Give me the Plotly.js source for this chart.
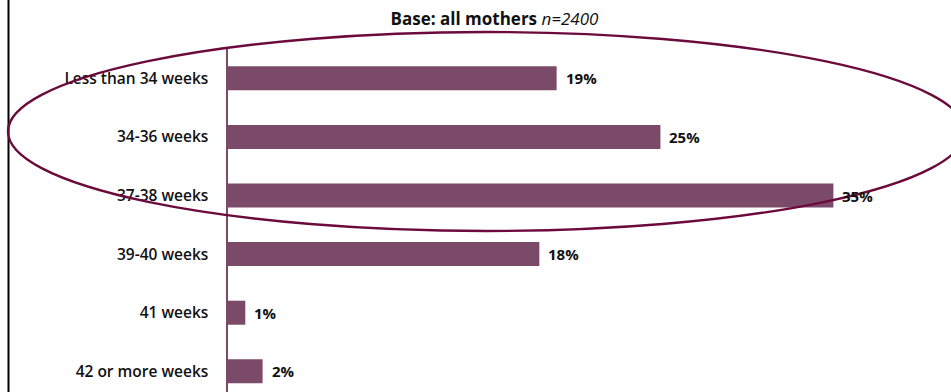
<!DOCTYPE html>
<html>
<head>
<meta charset="utf-8">
<script src="https://cdn.plot.ly/plotly-3.0.1.min.js"></script>
<style>
html,body{margin:0;padding:0;background:#fff;}
#chart{width:951px;height:392px;}
</style>
</head>
<body>
<div id="chart"></div>
<script>
var categories = ["Less than 34 weeks", "34-36 weeks", "37-38 weeks", "39-40 weeks", "41 weeks", "42 or more weeks"];
var values = [19, 25, 35, 18, 1, 2];
var labels = ["19%", "25%", "35%", "18%", "1%", "2%"];
var titleBold = "Base: all mothers";
var titleItalic = "n=2400";

var barColor = "#7b4a69";
var ringColor = "#6c0a3b";
var fontFam = "'Open Sans', 'Noto Sans', sans-serif";

var trace = {
  type: "bar",
  orientation: "h",
  x: values,
  y: categories,
  marker: {color: barColor},
  hoverinfo: "none"
};

var annotations = values.map(function (v, i) {
  return {
    x: v, y: categories[i], xref: "x", yref: "y",
    text: labels[i], showarrow: false,
    xanchor: "left", yanchor: "middle", xshift: 7,
    font: {family: fontFam, size: 15, color: "#111", weight: 700}
  };
});

var layout = {
  width: 951, height: 392,
  margin: {l: 228, r: 0, t: 49, b: 0, pad: 0},
  paper_bgcolor: "#fff", plot_bgcolor: "#fff",
  showlegend: false,
  bargap: 0.59,
  title: {
    text: "<b>" + titleBold + "</b> <i>" + titleItalic + "</i>",
    xref: "container", x: 0.52, xanchor: "center",
    yref: "container", y: 0.952, yanchor: "middle",
    font: {family: fontFam, size: 17, color: "#111"}
  },
  xaxis: {
    range: [0, 41.8],
    showgrid: false, zeroline: false, showline: false,
    showticklabels: false, ticks: ""
  },
  yaxis: {
    type: "category",
    range: [5.353, -0.5],
    showgrid: false, zeroline: false,
    showline: true, linecolor: barColor, linewidth: 2.5,
    ticks: "outside", ticklen: 14, tickcolor: "rgba(0,0,0,0)",
    tickfont: {family: fontFam, size: 15.5, color: "#111", weight: 600}
  },
  annotations: annotations,
  shapes: [
    {type: "line", xref: "paper", yref: "paper",
     x0: -0.3036, x1: -0.3036, y0: 1.15, y1: -0.02,
     line: {color: "#000", width: 2}},
    {type: "circle", xref: "paper", yref: "paper",
     x0: -0.3043, x1: 1.0194, y0: 0.4694, y1: 1.0496,
     line: {color: ringColor, width: 2.4}, layer: "above"}
  ]
};

Plotly.newPlot("chart", [trace], layout, {displayModeBar: false, staticPlot: true});
</script>
</body>
</html>
